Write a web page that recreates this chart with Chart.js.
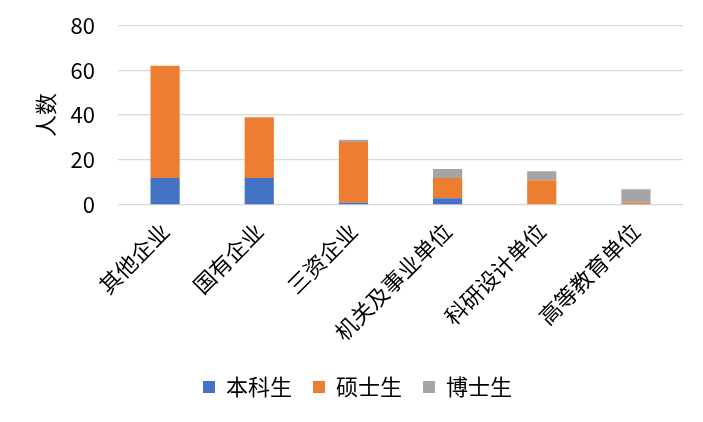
<!DOCTYPE html>
<html>
<head>
<meta charset="utf-8">
<script src="https://cdn.jsdelivr.net/npm/chart.js@4.4.1/dist/chart.umd.min.js"></script>
<style>
  html, body { margin: 0; padding: 0; background: #fff; }
  #wrap { width: 703px; height: 422px; }
</style>
</head>
<body>
<div id="wrap"><canvas id="chart" width="703" height="422"></canvas></div>
<script>
// 就业单位类型
const categories = ['其他企业', '国有企业', '三资企业', '机关及事业单位', '科研设计单位', '高等教育单位'];
const bachelor = [12, 12, 1, 3, 0, 0];   // 本科生
const master   = [50, 27, 27, 9, 11, 1]; // 硕士生
const doctor   = [0, 0, 1, 4, 4, 6];     // 博士生
const yTicks = [0, 20, 40, 60, 80];

const FONT = "'Noto Sans CJK SC', 'Noto Sans', sans-serif";
const SIZE = 22;

new Chart(document.getElementById('chart'), {
    type: 'bar',
    data: {
        labels: categories,
        datasets: [
            { label: '本科生', data: bachelor, backgroundColor: '#4472C4' },
            { label: '硕士生', data: master, backgroundColor: '#ED7D31' },
            { label: '博士生', data: doctor, backgroundColor: '#A5A5A5' }
        ]
    },
    options: {
        responsive: false,
        animation: false,
        layout: { padding: { left: 32, right: 20, top: 0, bottom: 14 } },
        datasets: { bar: { categoryPercentage: 1, barPercentage: 0.31 } },
        scales: {
            x: {
                stacked: true,
                grid: { display: false },
                border: { display: false },
                ticks: {
                    color: '#000',
                    font: { family: FONT, size: SIZE },
                    minRotation: 45,
                    maxRotation: 45,
                    padding: 5
                },
                afterFit: axis => { axis.height = 150; }
            },
            y: {
                stacked: true,
                min: 0,
                max: 80,
                afterBuildTicks: axis => { axis.ticks = yTicks.map(v => ({ value: v })); },
                afterFit: axis => { axis.width = 86; },
                grid: { color: '#D9D9D9', lineWidth: 1.3, drawTicks: false },
                border: { display: false },
                ticks: {
                    color: '#000',
                    font: { family: FONT, size: SIZE, lineHeight: 0.2 },
                    padding: 23
                },
                title: {
                    display: true,
                    text: '人数',
                    color: '#000',
                    font: { family: FONT, size: SIZE },
                    padding: { top: 0, bottom: 0 }
                }
            }
        },
        plugins: {
            legend: {
                position: 'bottom',
                labels: {
                    color: '#000',
                    font: { family: FONT, size: SIZE },
                    boxWidth: 12,
                    boxHeight: 12,
                    padding: 21
                }
            },
            tooltip: { enabled: false }
        }
    }
});
</script>
</body>
</html>
